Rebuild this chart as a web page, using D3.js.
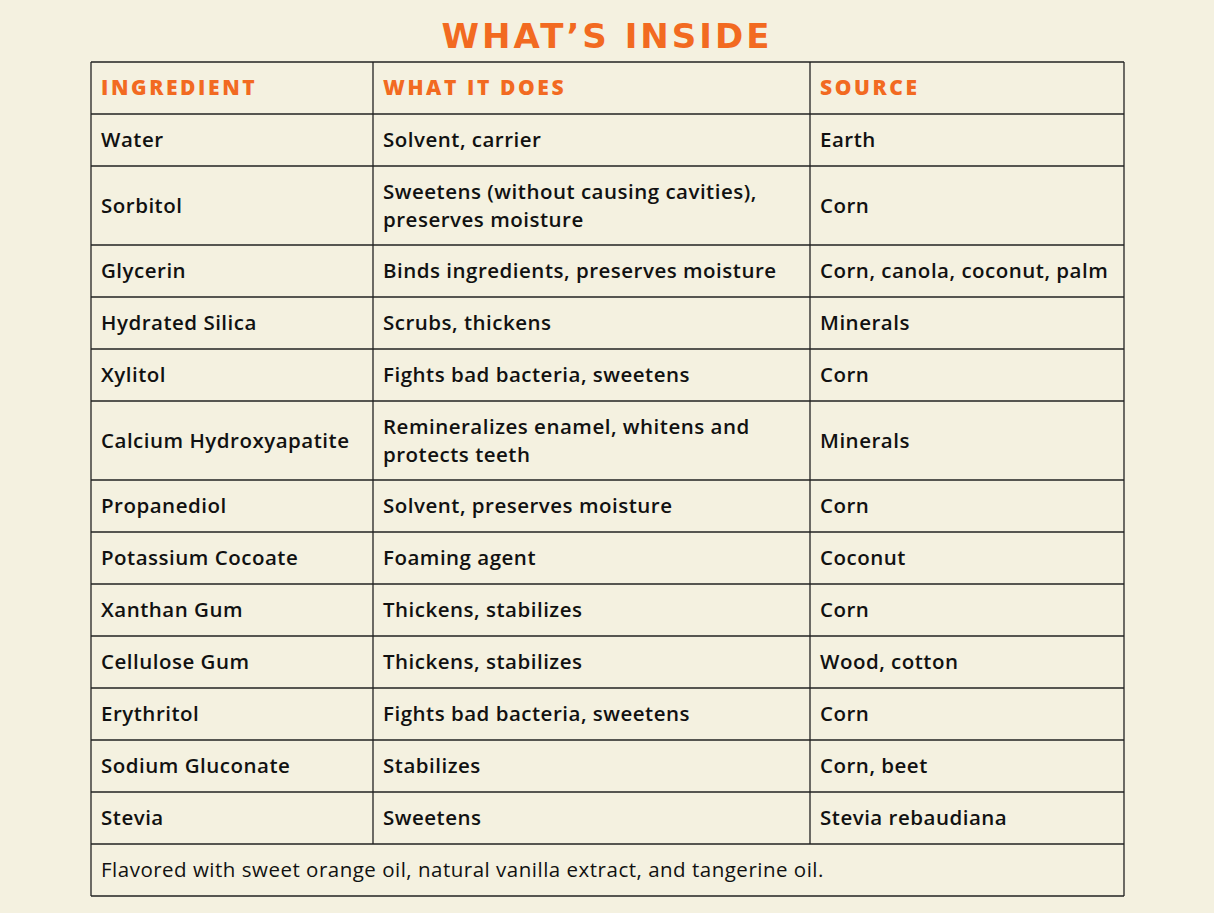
<!DOCTYPE html>
<html><head><meta charset="utf-8">
<script src="https://cdn.jsdelivr.net/npm/d3@7"></script>
<style>
body{margin:0;background:#f4f1e0;}
text{font-family:"Open Sans",sans-serif;}
</style></head>
<body><div id="chart"></div>
<script>
var headers = ["INGREDIENT", "WHAT IT DOES", "SOURCE"];
var ingredients = ["Water","Sorbitol","Glycerin","Hydrated Silica","Xylitol","Calcium Hydroxyapatite","Propanediol","Potassium Cocoate","Xanthan Gum","Cellulose Gum","Erythritol","Sodium Gluconate","Stevia"];
var functions = [["Solvent, carrier"],["Sweetens (without causing cavities),","preserves moisture"],["Binds ingredients, preserves moisture"],["Scrubs, thickens"],["Fights bad bacteria, sweetens"],["Remineralizes enamel, whitens and","protects teeth"],["Solvent, preserves moisture"],["Foaming agent"],["Thickens, stabilizes"],["Thickens, stabilizes"],["Fights bad bacteria, sweetens"],["Stabilizes"],["Sweetens"]];
var sources = ["Earth","Corn","Corn, canola, coconut, palm","Minerals","Corn","Minerals","Corn","Coconut","Corn","Wood, cotton","Corn","Corn, beet","Stevia rebaudiana"];
var footnote = "Flavored with sweet orange oil, natural vanilla extract, and tangerine oil.";

var W = 1214, H = 913;
var orange = "#f26a21";
var svg = d3.select("#chart").append("svg").attr("width", W).attr("height", H);

var x = d3.scaleOrdinal().domain([0,1,2,3]).range([91, 373, 810, 1124]);
// row heights: single line 52, each extra line +27
var rowH = d => 52 + 27 * (d - 1);
var lines = [1].concat(functions.map(f => f.length)).concat([1]);
var tops = [62];
lines.forEach((l, i) => tops.push(tops[i] + rowH(l)));
var y = d3.scaleLinear().domain([0, 1]).range([0, 1]);

svg.append("text").attr("x", W/2).attr("y", 48).attr("text-anchor","middle")
  .attr("fill", orange).style("font-family","DejaVu Sans").style("font-weight",800)
  .style("font-size","34px").style("letter-spacing","3px").text("WHAT’S INSIDE");

var g = svg.append("g");
// horizontal lines
g.selectAll("line.h").data(tops).enter().append("line")
  .attr("x1", 91).attr("x2", 1124).attr("y1", d => y(d)).attr("y2", d => y(d))
  .attr("stroke", "#222").attr("stroke-width", 1.3);
// vertical lines
var last = tops.length - 1;
[0,1,2,3].forEach(c => {
  var yEnd = (c === 0 || c === 3) ? tops[last] : tops[last - 1];
  g.append("line").attr("x1", x(c)).attr("x2", x(c)).attr("y1", tops[0]).attr("y2", yEnd)
    .attr("stroke", "#222").attr("stroke-width", 1.3);
});

function cell(col, rowIdx, txtLines, opts) {
  var mid = (tops[rowIdx] + tops[rowIdx + 1]) / 2;
  var n = txtLines.length;
  var t = g.append("text").attr("x", x(col) + 10)
    .attr("fill", opts.fill || "#111")
    .style("font-size", (opts.size || 20.5) + "px").style("font-weight", opts.weight || 600)
    .style("letter-spacing", opts.ls || "0.5px");
  txtLines.forEach((s, i) => {
    t.append("tspan").attr("x", x(col) + 10).attr("y", mid + 7 + (i - (n - 1) / 2) * 28).text(s);
  });
}
headers.forEach((h, c) => cell(c, 0, [h], {fill: orange, weight: 800, size: 21, ls: "2.6px"}));
ingredients.forEach((d, i) => {
  cell(0, i + 1, [d], {});
  cell(1, i + 1, functions[i], {});
  cell(2, i + 1, [sources[i]], {});
});
cell(0, last - 1, [footnote], {weight: 400, ls: "0.5px"});
</script></body></html>
